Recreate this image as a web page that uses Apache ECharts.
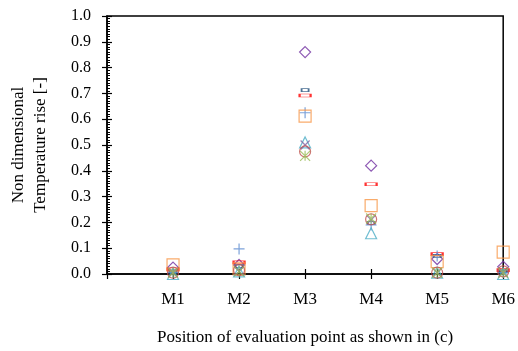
<!DOCTYPE html>
<html>
<head>
<meta charset="utf-8">
<script src="https://cdn.jsdelivr.net/npm/echarts@6/dist/echarts.min.js"></script>
<style>
    html, body { margin: 0; padding: 0; background: #fff; }
    #chart { width: 518px; height: 351px; }
</style>
</head>
<body>
<div id="chart"></div>
<script>
// evaluation points M1..M6
var categories = ['M1', 'M2', 'M3', 'M4', 'M5', 'M6'];
var yTicks = [0, 0.1, 0.2, 0.3, 0.4, 0.5, 0.6, 0.7, 0.8, 0.9, 1.0];

// one array per case
var diamondPurple = [0.025, 0.035, 0.86, 0.42, 0.058, 0.028];
var dashRed = [0.018, 0.045, 0.692, 0.348, 0.077, 0.015];
var dashNavy = [0.01, 0.03, 0.713, 0.198, 0.07, 0.01];
var plusBlue = [0.005, 0.097, 0.625, 0.19, 0.07, 0.005];
var squareOrange = [0.035, 0.02, 0.612, 0.265, 0.048, 0.085];
var triangleAqua = [0.0, 0.01, 0.51, 0.158, 0.005, 0.0];
var crossPurple = [0.005, 0.01, 0.5, 0.21, 0.005, 0.005];
var circleRed = [0.005, 0.015, 0.475, 0.212, 0.005, 0.01];
var starGreen = [0.005, 0.01, 0.458, 0.215, 0.005, 0.005];

var FONT = '"Liberation Serif", "Times New Roman", serif';

function toPoints(arr) {
    return arr.map(function (v, i) { return [i + 1, v]; });
}

function markerSeries(name, data, symbol, size, color) {
    return {
        name: name,
        type: 'scatter',
        xAxisIndex: 0,
        yAxisIndex: 0,
        data: toPoints(data),
        symbol: symbol,
        symbolSize: size,
        itemStyle: {
            color: 'rgba(255,255,255,0)',
            borderColor: color,
            borderWidth: 1.2
        },
        emphasis: { disabled: true },
        z: 5
    };
}

var chart = echarts.init(document.getElementById('chart'));

var option = {
    animation: false,
    grid: {
        left: 104,
        right: 13,
        top: 16,
        bottom: 77,
        show: true,
        borderColor: '#000',
        borderWidth: 1.5,
        backgroundColor: 'transparent'
    },
    xAxis: [
        {
            type: 'value',
            min: 0,
            max: 6,
            interval: 1,
            name: 'Position of evaluation point as shown in (c)',
            nameLocation: 'middle',
            nameGap: 55,
            nameTextStyle: { fontFamily: FONT, fontSize: 17, color: '#000' },
            axisLine: { onZero: false, lineStyle: { color: '#000', width: 1.5 } },
            axisTick: { show: true, inside: true, length: 5, lineStyle: { color: '#000', width: 1.2 } },
            axisLabel: {
                fontFamily: FONT,
                fontSize: 17,
                color: '#000',
                margin: 17,
                showMinLabel: true,
                formatter: function (v) { return v >= 1 ? categories[v - 1] : ''; }
            },
            splitLine: { show: false }
        },
        {
            type: 'value',
            min: 0,
            max: 6,
            interval: 1,
            position: 'bottom',
            axisLine: { show: false },
            axisTick: { show: true, inside: false, length: 5, lineStyle: { color: '#000', width: 1.2 } },
            axisLabel: { show: false },
            splitLine: { show: false }
        }
    ],
    yAxis: [
        {
            type: 'value',
            min: 0,
            max: 1,
            interval: 0.1,
            name: 'Non dimensional\nTemperature rise [-]',
            nameLocation: 'middle',
            nameGap: 55,
            nameRotate: 90,
            nameTextStyle: { fontFamily: FONT, fontSize: 17, color: '#000', lineHeight: 22 },
            axisLine: { onZero: false, lineStyle: { color: '#000', width: 1.5 } },
            axisTick: { show: true, inside: true, length: 5, lineStyle: { color: '#000', width: 1.2 } },
            minorTick: { show: true, splitNumber: 10, length: 3, lineStyle: { color: '#000', width: 1 } },
            axisLabel: {
                fontFamily: FONT,
                fontSize: 16,
                color: '#000',
                margin: 16,
                formatter: function (v) {
                    var t = yTicks.filter(function (k) { return Math.abs(k - v) < 1e-6; });
                    return t.length ? t[0].toFixed(1) : '';
                }
            },
            splitLine: { show: false }
        },
        {
            type: 'value',
            min: 0,
            max: 1,
            interval: 0.1,
            position: 'left',
            axisLine: { show: false },
            axisTick: { show: true, inside: false, length: 5, lineStyle: { color: '#000', width: 1.2 } },
            axisLabel: { show: false },
            splitLine: { show: false }
        }
    ],
    series: [
        markerSeries('diamond', diamondPurple, 'diamond', [11, 11], '#7030A0'),
        markerSeries('dash', dashRed, 'rect', [11, 3], '#FF0000'),
        markerSeries('short dash', dashNavy, 'rect', [7, 3], '#1F4E79'),
        markerSeries('plus', plusBlue, 'path://M5,0 L5,10 M0,5 L10,5', [11, 11], '#5B8BD0'),
        markerSeries('square', squareOrange, 'rect', [12, 12], '#F79646'),
        markerSeries('triangle', triangleAqua, 'triangle', [11, 11], '#4BACC6'),
        markerSeries('cross', crossPurple, 'path://M0,0 L10,10 M10,0 L0,10', [9, 9], '#8064A2'),
        markerSeries('circle', circleRed, 'circle', [11, 11], '#C0504D'),
        markerSeries('star', starGreen, 'path://M0,0 L10,10 M10,0 L0,10 M5,0 L5,10', [10, 10], '#9BBB59')
    ]
};

chart.setOption(option, true);
</script>
</body>
</html>
